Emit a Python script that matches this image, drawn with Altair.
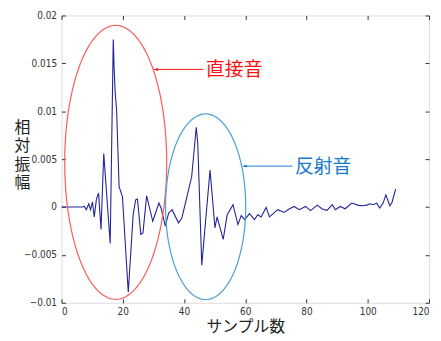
import altair as alt
import numpy as np
import pandas as pd

# ---- data ----
wave_x = [0, 6.8, 7.5, 8.1, 8.9, 9.5, 10.1, 10.7, 11.4, 12.1,
          12.9, 13.8, 14.1, 15.9, 16.9, 17.2, 17.5, 18.0, 18.8, 19.9,
          21.8, 23.4, 24.2, 24.8, 25.9, 26.6, 27.8, 29.8, 31.8, 32.5,
          33.9, 35.0, 36.1, 38.2, 39.3, 42.5, 44.0, 44.5, 45.8, 48.5,
          50.1, 50.8, 52.8, 54.1, 56.0, 57.6, 58.7, 59.8, 61.4, 63.0,
          64.1, 65.2, 66.8, 67.9, 70.6, 72.7, 74.3, 76.0, 77.6, 79.7,
          81.3, 83.5, 85.1, 86.7, 88.4, 89.4, 91.0, 92.6, 94.8, 97.0,
          98.3, 99.6, 100.7, 101.8, 102.9, 103.9, 105.0, 105.9, 107.2, 107.9,
          109.1]
wave_y_milli = [0, 0, 0.06, -0.28, 0.34, -0.28, 0.55, -1.03, 0.83, 1.45,
                -2.35, 5.58, 4.2, -3.8, 17.48, 14.4, 12.1, 10.1, 2.13, 1.1,
                -8.9, -0.8, 0.75, 0.83, -2.86, -2.7, 1.17, -1.49, 0.41, -0.1,
                -2.0, -0.62, -0.28, -1.65, -1.14, 3.16, 8.33, 6.6, -6.07, 3.86,
                -2.17, -1.03, -3.38, -0.8, 0.24, -1.83, -0.9, -1.31, -0.69, -1.31,
                -0.8, -1.03, -0.04, -1.03, -0.28, -0.56, -0.2, 0.06, -0.28, 0.06,
                -0.38, 0.2, -0.2, -0.35, 0.24, -0.28, 0.06, -0.18, 0.41, 0.17,
                0.13, 0.2, 0.34, 0.24, 0.41, -0.1, 0.41, 1.27, 0.13, 0.48,
                1.86]

x_ticks = [0, 20, 40, 60, 80, 100, 120]
y_ticks = [-0.01, -0.005, 0, 0.005, 0.01, 0.015, 0.02]

# ellipses: [center x, center y, radius x, radius y]
ellipse_names = ["直接音", "反射音"]
ellipse_cx = [17.7, 47.06]
ellipse_cy = [0.00466, 0.00003]
ellipse_rx = [16.65, 13.09]
ellipse_ry = [0.0143, 0.00969]
ellipse_colors = ["#ff5a5a", "#4a9ed8"]

# annotation arrows and labels
label_text = ["直接音", "反射音"]
arrow_tip_x = [30.2, 59.2]
arrow_tail_x = [46.3, 75.4]
arrow_y = [0.01437, 0.00427]
label_x = [47.2, 76.2]
label_colors = ["#ff1010", "#1a7acb"]

W, H = 371, 290
FONT_NUM = "Liberation Sans Narrow, Arial Narrow, DejaVu Sans Condensed, sans-serif"
FONT_JP = "Noto Sans CJK JP"

wave = pd.DataFrame({"x": wave_x, "y": [v / 1000 for v in wave_y_milli]})

xscale = alt.Scale(domain=[0, 120], nice=False, zero=False)
yscale = alt.Scale(domain=[-0.01, 0.02], nice=False, zero=False)

def tick_axis(orient, offset, values):
    return alt.Axis(orient=orient, offset=offset, values=values, labels=False,
                    domain=False, grid=False, ticks=True, tickSize=4,
                    tickColor="#333333", title=None)

line = alt.Chart(wave).mark_line(color="#23239c", strokeWidth=1.1).encode(
    x=alt.X("x:Q", scale=xscale,
            axis=alt.Axis(values=x_ticks, format="d", ticks=False, domain=False,
                          grid=False, labelFont=FONT_NUM, labelFontSize=10,
                          labelColor="#333333", labelPadding=4,
                          title="サンプル数", titleFont=FONT_JP, titleFontSize=16,
                          titleFontWeight="normal", titleColor="#222222",
                          titleBaseline="top", titleY=16)),
    y=alt.Y("y:Q", scale=yscale,
            axis=alt.Axis(values=y_ticks, format="~g", ticks=False, domain=False,
                          grid=False, labelFont=FONT_NUM, labelFontSize=10,
                          labelColor="#333333", labelPadding=5,
                          title=["相", "対", "振", "幅"], titleAngle=0,
                          titleFont=FONT_JP, titleFontSize=16,
                          titleFontWeight="normal", titleColor="#222222",
                          titleLineHeight=18.5, titleAlign="center",
                          titleBaseline="middle", titleX=-40, titleY=113)),
)

layers = [line]
tick_orients = [("top", "right"), ("bottom", "left")]
t = np.linspace(0, 2 * np.pi, 181)
for i in range(len(ellipse_names)):
    df = pd.DataFrame({
        "x": ellipse_cx[i] + ellipse_rx[i] * np.cos(t),
        "y": ellipse_cy[i] + ellipse_ry[i] * np.sin(t),
        "o": np.arange(len(t)),
    })
    xo, yo = tick_orients[i]
    layers.append(
        alt.Chart(df).mark_line(color=ellipse_colors[i], strokeWidth=1.2).encode(
            x=alt.X("x:Q", scale=xscale, axis=tick_axis(xo, -H, x_ticks)),
            y=alt.Y("y:Q", scale=yscale, axis=tick_axis(yo, -W, y_ticks)),
            order="o:Q",
        )
    )

ann = pd.DataFrame({"text": label_text, "tip": arrow_tip_x, "tail": arrow_tail_x,
                    "y": arrow_y, "lx": label_x, "color": label_colors})

arrows = alt.Chart(ann).mark_rule(strokeWidth=1).encode(
    x=alt.X("tip:Q", scale=xscale, axis=None),
    x2="tail:Q",
    y=alt.Y("y:Q", scale=yscale, axis=None),
    color=alt.Color("color:N", scale=None),
)
heads = alt.Chart(ann).mark_point(
    shape="M0,0 L2,-0.75 L2,0.75 Z", size=16, filled=True, opacity=1
).encode(
    x=alt.X("tip:Q", scale=xscale, axis=None),
    y=alt.Y("y:Q", scale=yscale, axis=None),
    color=alt.Color("color:N", scale=None),
)
texts = alt.Chart(ann).mark_text(
    align="left", baseline="middle", font=FONT_JP, fontSize=19, dy=1
).encode(
    x=alt.X("lx:Q", scale=xscale, axis=None),
    y=alt.Y("y:Q", scale=yscale, axis=None),
    text="text:N",
    color=alt.Color("color:N", scale=None),
)
layers += [arrows, heads, texts]

chart = alt.layer(*layers).resolve_axis(
    x="independent", y="independent"
).properties(
    width=W, height=H,
    autosize=alt.AutoSizeParams(type="none"),
    padding={"left": 54, "top": 6, "right": 4, "bottom": 35},
).configure_view(stroke="#444444", strokeWidth=1).configure(background="white")

chart.save("out.html", embed_options={"renderer": "svg", "actions": False})
